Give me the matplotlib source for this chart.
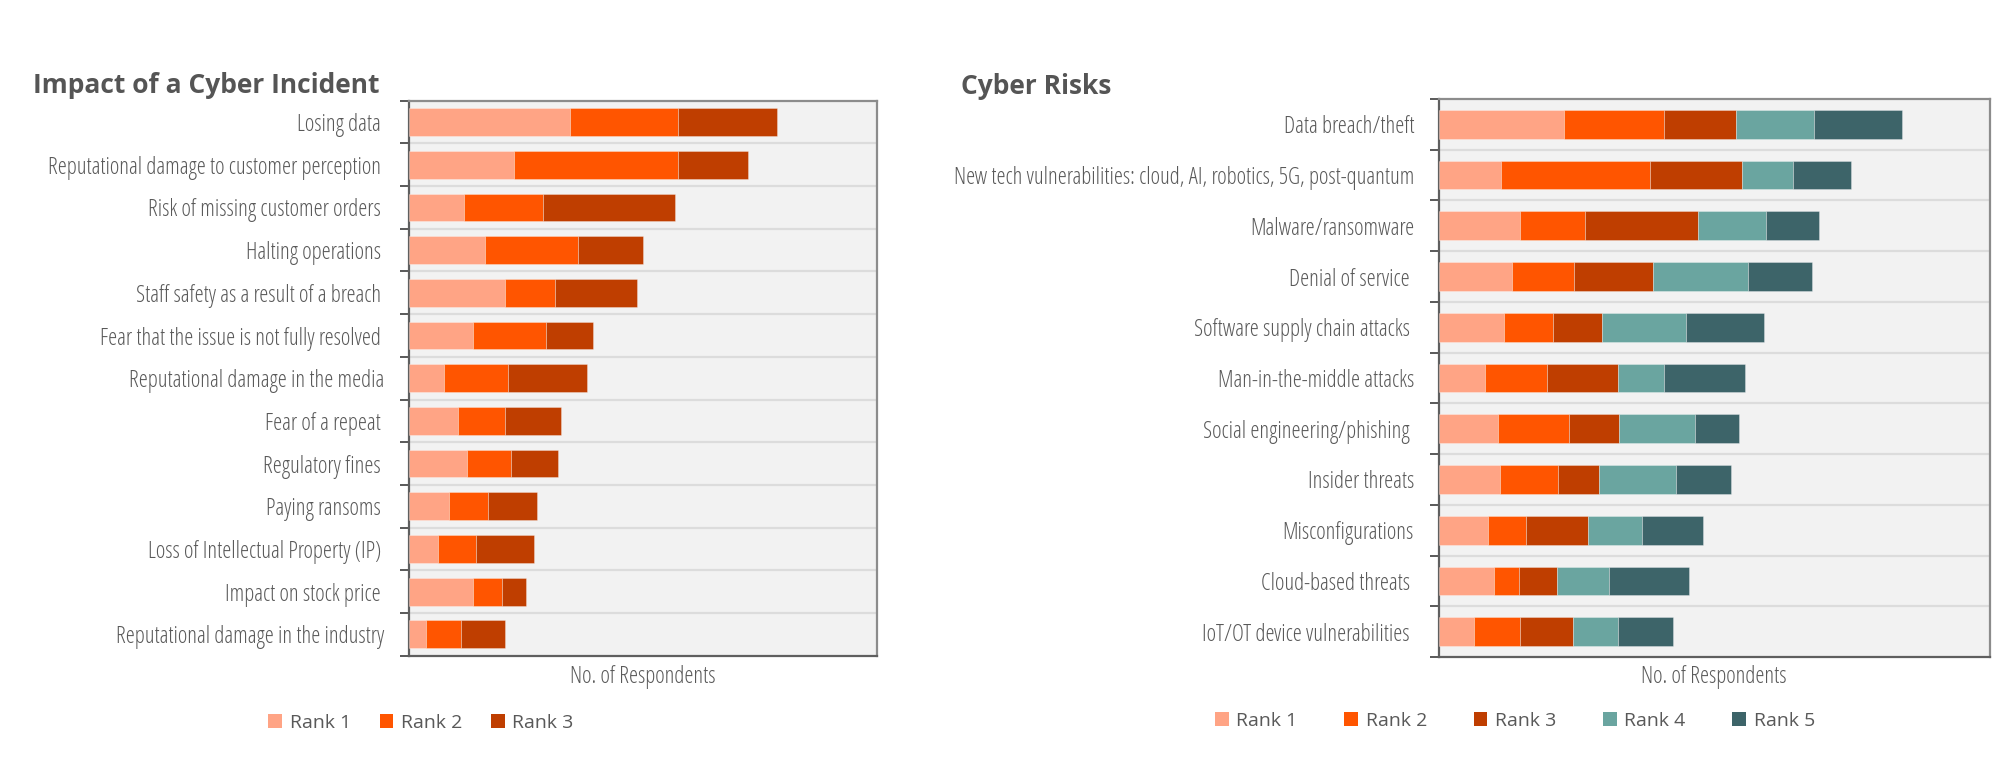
import matplotlib
matplotlib.use("Agg")
import matplotlib.pyplot as plt
import numpy as np
from matplotlib import font_manager as fm
from matplotlib.font_manager import FontProperties
from matplotlib.patches import Patch
from matplotlib.transforms import ScaledTranslation, blended_transform_factory

# ---------------- data ----------------
impact_title = "Impact of a Cyber Incident"
impact_labels = [
    "Losing data ",
    "Reputational damage to customer perception ",
    "Risk of missing customer orders ",
    "Halting operations ",
    "Staff safety as a result of a breach ",
    "Fear that the issue is not fully resolved ",
    "Reputational damage in the media",
    "Fear of a repeat ",
    "Regulatory fines ",
    "Paying ransoms ",
    "Loss of Intellectual Property (IP) ",
    "Impact on stock price ",
    "Reputational damage in the industry",
]
impact_rank1 = [55, 36, 19, 26, 33, 22, 12, 17, 20, 14, 10, 22, 6]
impact_rank2 = [37, 56, 27, 32, 17, 25, 22, 16, 15, 13, 13, 10, 12]
impact_rank3 = [34, 24, 45, 22, 28, 16, 27, 19, 16, 17, 20, 8, 15]
impact_xmax = 160

risk_title = "Cyber Risks"
risk_labels = [
    "Data breach/theft",
    "New tech vulnerabilities: cloud, AI, robotics, 5G, post-quantum",
    "Malware/ransomware",
    "Denial of service ",
    "Software supply chain attacks ",
    "Man-in-the-middle attacks",
    "Social engineering/phishing ",
    "Insider threats",
    "Misconfigurations",
    "Cloud-based threats ",
    "IoT/OT device vulnerabilities ",
]
risk_rank1 = [43.4, 21.6, 28.1, 25.5, 22.7, 16.0, 20.6, 21.1, 17.2, 19.0, 12.3]
risk_rank2 = [34.4, 51.2, 22.4, 21.1, 16.8, 21.4, 24.4, 20.0, 13.1, 8.6, 15.9]
risk_rank3 = [24.9, 32.0, 39.0, 27.2, 16.8, 24.4, 17.4, 14.2, 21.1, 13.1, 18.3]
risk_rank4 = [26.7, 17.5, 23.3, 32.8, 28.9, 15.9, 26.1, 26.7, 18.6, 18.0, 15.3]
risk_rank5 = [30.4, 19.9, 18.4, 22.0, 27.1, 28.0, 15.1, 18.8, 21.1, 27.5, 19.1]
risk_xmax = 190

rank_names = ["Rank 1", "Rank 2", "Rank 3", "Rank 4", "Rank 5"]
rank_colors = ["#FFA485", "#FF5500", "#BF3E00", "#6AA5A0", "#3D6469"]
axis_label = "No. of Respondents"

# ---------------- fonts ----------------
def font_path(fname, fallback_family, weight="normal", stretch="normal"):
    for f in fm.fontManager.ttflist:
        if f.fname.endswith("/" + fname):
            return f.fname
    return fm.findfont(FontProperties(family=fallback_family, weight=weight, stretch=stretch))

P_COND = font_path("OpenSans-CondLight.ttf", "Open Sans", 300, "condensed")
P_REG = font_path("OpenSans-Regular.ttf", "Open Sans")
P_BOLD = font_path("OpenSans-Bold.ttf", "Open Sans", "bold")

TXT = "#595959"
LABEL_SIZE = 16.5
W, H = 2000, 769
fig = plt.figure(figsize=(20, 7.69), dpi=100)


def px_axes(x0, y0, x1, y1):
    return fig.add_axes([x0 / W, 1 - y1 / H, (x1 - x0) / W, (y1 - y0) / H])


def draw_panel(ax, labels, series, xmax, bar_h, label_gap_px, extra_px):
    n = len(labels)
    y = np.arange(n)
    left = np.zeros(n)
    for vals, col in zip(series, rank_colors):
        vals = np.asarray(vals, dtype=float)
        ax.barh(y, vals, left=left, height=bar_h, color=col,
                edgecolor=(1, 1, 1, 0.35), linewidth=0.6, zorder=3)
        left += vals
    ax.set_xlim(0, xmax)
    ax.set_ylim(n - 0.5, -0.5)
    ax.set_facecolor("#F2F2F2")
    ax.set_xticks([])
    ax.set_yticks(np.arange(n + 1) - 0.5)
    ax.set_yticklabels([])
    ax.tick_params(axis="y", which="major", length=6.5, width=1.4,
                   color="#595959", direction="out")
    for b in np.arange(1, n) - 0.5:
        ax.axhline(b, color="#DCDCDC", lw=1.6, zorder=1)
    ax.spines["left"].set_color("#5f5f5f")
    ax.spines["bottom"].set_color("#5f5f5f")
    ax.spines["top"].set_color("#8c8c8c")
    ax.spines["right"].set_color("#8c8c8c")
    for s in ax.spines.values():
        s.set_linewidth(1.6)
    tr = blended_transform_factory(ax.transAxes, ax.transData)
    for i, lab in enumerate(labels):
        gap = label_gap_px + (extra_px if lab.endswith(" ") else 0)
        off = ScaledTranslation(-gap / 100.0, 0, fig.dpi_scale_trans)
        ax.text(0, i, lab.rstrip(), transform=tr + off, ha="right",
                va="center_baseline",
                fontproperties=FontProperties(fname=P_COND, size=LABEL_SIZE),
                color=TXT)


# left panel
axL = px_axes(408.5, 100.7, 877, 655.7)
draw_panel(axL, impact_labels, [impact_rank1, impact_rank2, impact_rank3],
           impact_xmax, 0.65, 24, 3.5)
# right panel
axR = px_axes(1438.5, 99, 1989.6, 657)
draw_panel(axR, risk_labels, [risk_rank1, risk_rank2, risk_rank3, risk_rank4, risk_rank5],
           risk_xmax, 0.566, 24.5, 4)

# titles
fig.text(32.7 / W, 1 - 93 / H, impact_title, ha="left", va="baseline",
         fontproperties=FontProperties(fname=P_BOLD, size=19), color="#555555")
fig.text(960.7 / W, 1 - 94 / H, risk_title, ha="left", va="baseline",
         fontproperties=FontProperties(fname=P_BOLD, size=19), color="#555555")

# axis labels
for ax, yb in ((axL, 683.3), (axR, 683.3)):
    pos = ax.get_position()
    fig.text(pos.x0 + pos.width / 2, 1 - yb / H, axis_label, ha="center", va="baseline",
             fontproperties=FontProperties(fname=P_COND, size=LABEL_SIZE), color=TXT)

# legends
leg_font = FontProperties(fname=P_REG, size=14)
def add_legend(k, cx, cy, colspace):
    handles = [Patch(facecolor=rank_colors[i], edgecolor="none") for i in range(k)]
    fig.legend(handles, rank_names[:k], loc="center", bbox_to_anchor=(cx / W, 1 - cy / H),
               ncol=k, frameon=False, prop=leg_font, labelcolor=TXT,
               handlelength=0.7, handleheight=0.7, handletextpad=0.4,
               columnspacing=colspace, borderpad=0, borderaxespad=0)

add_legend(3, 421, 723, 1.47)
add_legend(5, 1515, 720.7, 2.4)

fig.savefig("out.png", dpi=100)
